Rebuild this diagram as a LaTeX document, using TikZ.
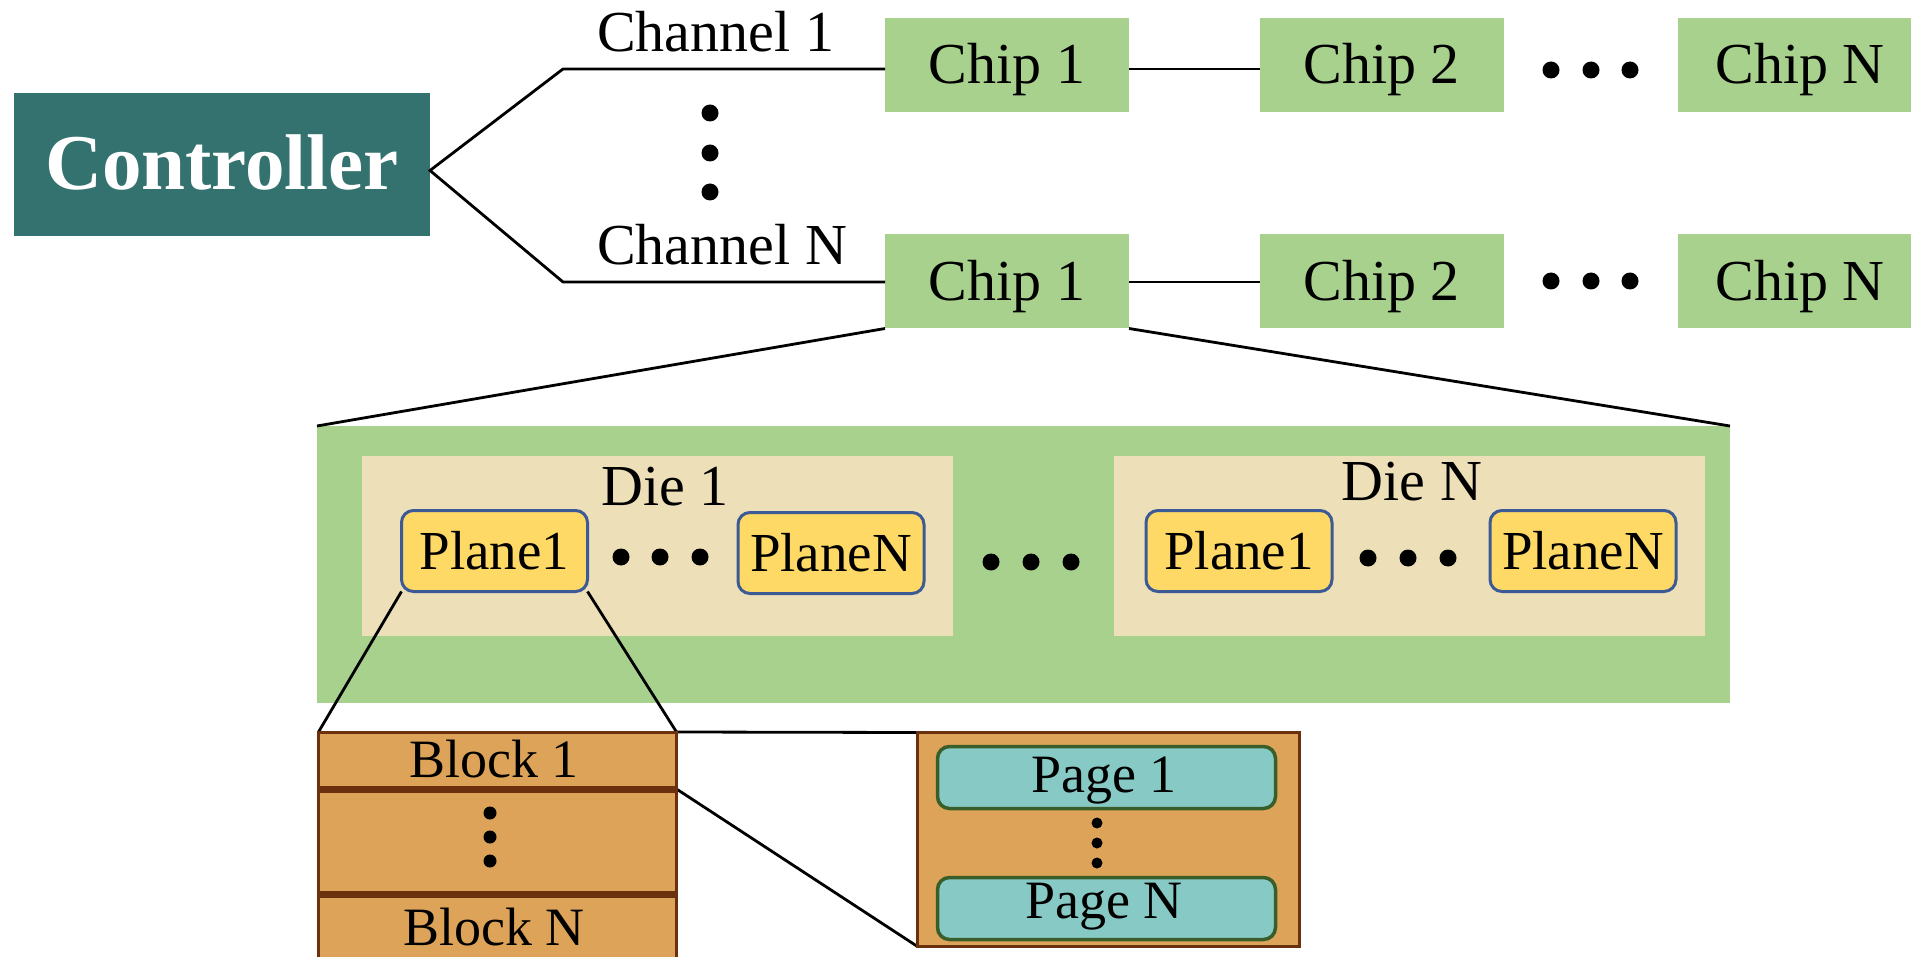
\documentclass[tikz,border=0pt]{standalone}
\usepackage{fontspec}
\setmainfont{Liberation Serif}
\usetikzlibrary{calc}
\definecolor{ctrlc}{HTML}{347270}
\definecolor{chipg}{HTML}{A9D18E}
\definecolor{dieb}{HTML}{EDDFB7}
\definecolor{planey}{HTML}{FFD966}
\definecolor{planeb}{HTML}{3B5A96}
\definecolor{blko}{HTML}{DDA459}
\definecolor{blkb}{HTML}{6B300E}
\definecolor{pagec}{HTML}{87CAC5}
\definecolor{pageb}{HTML}{3A5E2A}
\pgfdeclarelayer{bgg}
\pgfdeclarelayer{bg}
\pgfsetlayers{bgg,bg,main}
\begin{document}
\begin{tikzpicture}[x=1pt,y=-1pt,
  ctrlbox/.style={fill=ctrlc,text=white,inner sep=0pt,outer sep=0pt,
    minimum width=416pt,minimum height=143pt,
    font=\bfseries\fontsize{79}{83}\selectfont,text height=51pt,text depth=0pt},
  chipbox/.style={fill=chipg,inner sep=0pt,outer sep=0pt,
    minimum width=244pt,minimum height=94pt,
    font=\fontsize{58}{61}\selectfont,text height=38pt,text depth=0pt},
  bigbox/.style={fill=chipg,inner sep=0pt,outer sep=0pt,minimum width=1413pt,minimum height=277pt},
  diebox/.style={fill=dieb,inner sep=0pt,outer sep=0pt,minimum width=591pt,minimum height=180pt},
  planebox/.style={fill=planey,draw=planeb,line width=3pt,rounded corners=12pt,
    inner sep=0pt,outer sep=0pt,minimum width=186pt,minimum height=81pt,
    font=\fontsize{55}{58}\selectfont,text height=36pt,text depth=0pt},
  blkbox/.style={fill=blko,draw=blkb,line width=3pt,inner sep=0pt,outer sep=0pt},
  pagebox/.style={fill=pagec,draw=pageb,line width=3.5pt,rounded corners=12pt,
    inner sep=0pt,outer sep=0pt,minimum width=338pt,minimum height=62pt},
  lbl/.style={anchor=base,inner sep=0pt,font=\fontsize{58}{61}\selectfont},
  smlbl/.style={anchor=base,inner sep=0pt,font=\fontsize{54}{57}\selectfont},
  conn/.style={line width=2.8pt,black},
  sepline/.style={line width=7pt,blkb},
  dot/.style={fill=black}
]
\path[use as bounding box] (0,0) rectangle (1911,957);
\clip (0,0) rectangle (1911,957);

% controller and chips
\node[ctrlbox] (ctrl) at (222,164.5) {Controller};
\node[chipbox] (c11) at (1007,65) {Chip 1};
\node[chipbox] (c21) at (1381.5,65) {Chip 2};
\node[chipbox] (cN1) at (1800,65) {Chip N};
\node[chipbox] (c12) at (1007,281.5) {Chip 1};
\node[chipbox] (c22) at (1381.5,281.5) {Chip 2};
\node[chipbox] (cN2) at (1800,281.5) {Chip N};

\node[lbl,anchor=base west] (ch1) at (597,52) {Channel 1};
\node[lbl,anchor=base west] (chN) at (597,265) {Channel N};

\coordinate (k1) at (563,69);
\coordinate (k2) at (563,282);
\draw[conn,line join=miter] (c11.west |- k1) -- (k1) -- ([yshift=-6pt]ctrl.east) -- (k2) -- (c12.west |- k2);
\draw[conn] (c11.east |- k1) -- (c21.west |- k1);
\draw[conn] (c12.east |- k2) -- (c22.west |- k2);

\foreach \y in {113,153,192} \fill[dot] (710,\y) circle (8.5);
\foreach \x in {1551,1591,1630} {
  \fill[dot] (\x,70) circle (8.5);
  \fill[dot] (\x,281) circle (8.5);
}

% chip detail
\begin{pgfonlayer}{bgg}
\node[bigbox] (big) at (1023.5,564.5) {};
\node[diebox] (die1) at (657.5,546) {};
\node[diebox] (dieN) at (1409.5,546) {};
\end{pgfonlayer}
\node[lbl] (d1lbl) at (665,505) {Die 1};
\node[lbl] (dNlbl) at (1412,500) {Die N};

\node[planebox] (p11) at (494.5,551) {Plane1};
\node[planebox] (p1N) at (831,553) {PlaneN};
\node[planebox] (pN1) at (1239,551) {Plane1};
\node[planebox] (pNN) at (1583,551) {PlaneN};

\foreach \x in {621,660,700} \fill[dot] (\x,557) circle (8.5);
\foreach \x in {991,1031,1071} \fill[dot] (\x,562) circle (8.5);
\foreach \x in {1368,1408,1448} \fill[dot] (\x,558) circle (8.5);

% blocks and pages
\node[blkbox,minimum width=358pt,minimum height=260pt] (blk) at (497.5,862) {};
\coordinate (s1) at (497.5,789);
\coordinate (s2) at (497.5,894);
\draw[sepline] (blk.west |- s1) -- (blk.east |- s1);
\draw[sepline] (blk.west |- s2) -- (blk.east |- s2);
\node[smlbl] (b1lbl) at (494,777) {Block 1};
\node[smlbl] (bNlbl) at (494,945) {Block N};
\foreach \y in {813,837,861} \fill[dot] (490,\y) circle (6.5);

\node[blkbox,minimum width=382pt,minimum height=214pt] (pg) at (1108.5,839.5) {};
\node[pagebox] (pg1) at (1106.5,777.5) {};
\node[pagebox] (pgN) at (1106.5,908.5) {};
\node[smlbl] (pg1lbl) at (1104,792) {Page 1};
\node[smlbl] (pgNlbl) at (1104,918) {Page N};
\foreach \y in {823,843,863} \fill[dot] (1097,\y) circle (5.5);

\begin{pgfonlayer}{bg}
\draw[conn] (c12.south west) -- (big.north west);
\draw[conn] (c12.south east) -- (big.north east);
\draw[conn] (p11.south west) -- (blk.north west);
\draw[conn] (p11.south east) -- (blk.north east);
\draw[conn] (blk.north east) -- (pg.north west);
\draw[conn] (blk.east |- s1) -- (pg.south west);
\end{pgfonlayer}
\end{tikzpicture}
\end{document}
